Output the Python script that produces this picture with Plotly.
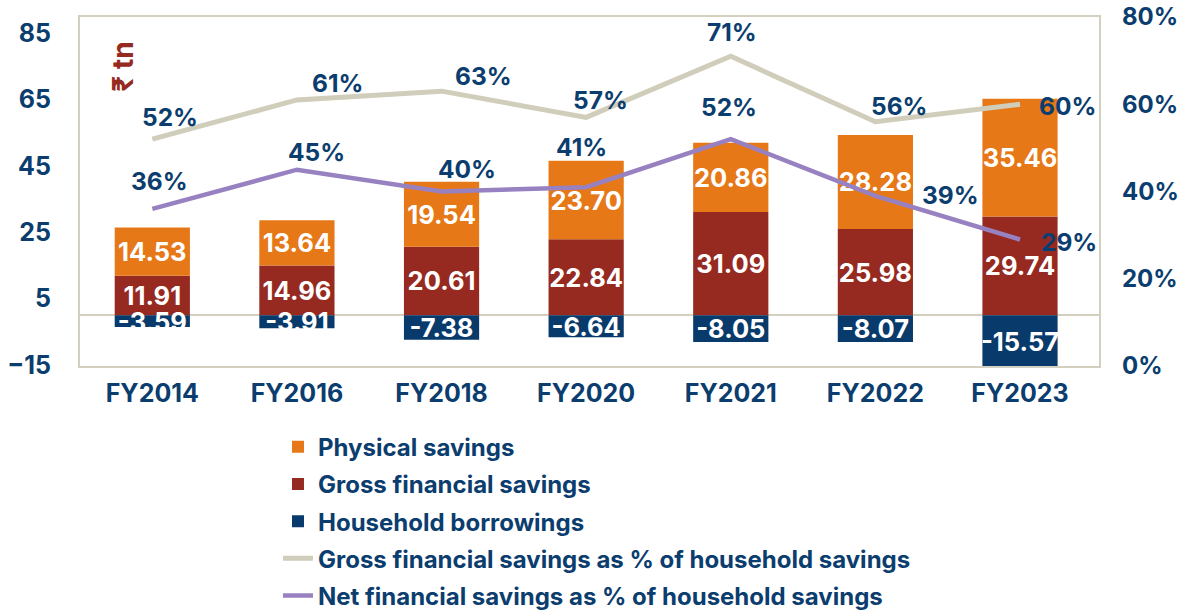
import plotly.graph_objects as go

categories = ["FY2014", "FY2016", "FY2018", "FY2020", "FY2021", "FY2022", "FY2023"]
physical_savings = [14.53, 13.64, 19.54, 23.70, 20.86, 28.28, 35.46]
gross_financial_savings = [11.91, 14.96, 20.61, 22.84, 31.09, 25.98, 29.74]
household_borrowings = [-3.59, -3.91, -7.38, -6.64, -8.05, -8.07, -15.57]
gross_pct = [52, 61, 63, 57, 71, 56, 60]
net_pct = [36, 45, 40, 41, 52, 39, 29]
left_ticks = [-15, 5, 25, 45, 65, 85]
right_ticks = [0, 20, 40, 60, 80]

# label offsets in pixels (style only)
gross_label_shift = [(18, 22), (41, 17), (42, 15), (14, 17), (1, 24), (24, 16), (47, -2)]
net_label_shift = [(7, 28), (20, 18), (25, 23), (-5, 40), (-2, 32), (75, 1), (49, -3)]

FONT = "Inter"
NAVY_TEXT = "#0B3D6E"
ORANGE = "#E67818"
RED = "#962A20"
NAVY = "#083A6B"
GREY = "#D0CDBB"
PURPLE = "#9881C0"
BORDER = "#D3D0C0"

fig = go.Figure()

bar_text = dict(family=FONT, size=25.5, color="white", weight="bold")

fig.add_trace(go.Bar(
    x=categories, y=gross_financial_savings, name="Gross financial savings",
    marker=dict(color=RED, line=dict(width=0)),
    text=[f"{v:.2f}" for v in gross_financial_savings], textposition="inside",
    insidetextanchor="middle", textangle=0, constraintext="none", textfont=bar_text,
    legendrank=2, legendgroup="g2", hoverinfo="skip"))
fig.add_trace(go.Bar(
    x=categories, y=physical_savings, name="Physical savings",
    marker=dict(color=ORANGE, line=dict(width=0)),
    text=[f"{v:.2f}" for v in physical_savings], textposition="inside",
    insidetextanchor="middle", textangle=0, constraintext="none", textfont=bar_text,
    legendrank=1, legendgroup="g1", hoverinfo="skip"))
fig.add_trace(go.Bar(
    x=categories, y=household_borrowings, name="Household borrowings",
    marker=dict(color=NAVY, line=dict(width=0)),
    text=[f"{v:.2f}" for v in household_borrowings], textposition="inside",
    insidetextanchor="middle", textangle=0, constraintext="none", textfont=bar_text,
    legendrank=3, legendgroup="g3", hoverinfo="skip"))

fig.add_trace(go.Scatter(
    x=categories, y=gross_pct, yaxis="y2", mode="lines",
    name="Gross financial savings as % of household savings",
    line=dict(color=GREY, width=5), legendrank=4, legendgroup="g4", hoverinfo="skip"))
fig.add_trace(go.Scatter(
    x=categories, y=net_pct, yaxis="y2", mode="lines",
    name="Net financial savings as % of household savings",
    line=dict(color=PURPLE, width=4.5), legendrank=5, legendgroup="g5", hoverinfo="skip"))

label_font = dict(family=FONT, size=24.5, color=NAVY_TEXT, weight="bold")
annotations = []
for cat, v, (dx, dy) in zip(categories, gross_pct, gross_label_shift):
    annotations.append(dict(x=cat, y=v, xref="x", yref="y2", text=f"{v}%", showarrow=False,
                            xshift=dx, yshift=dy, font=label_font))
for cat, v, (dx, dy) in zip(categories, net_pct, net_label_shift):
    annotations.append(dict(x=cat, y=v, xref="x", yref="y2", text=f"{v}%", showarrow=False,
                            xshift=dx, yshift=dy, font=label_font))
annotations.append(dict(x=0.042, y=0.857, xref="paper", yref="paper", text="₹ tn",
                        showarrow=False, textangle=-90, xanchor="center", yanchor="middle",
                        font=dict(family=FONT, size=28, color=RED, weight="bold")))

tickfont = dict(family=FONT, size=25, color=NAVY_TEXT, weight="bold")
tickfont_right = dict(family=FONT, size=24, color=NAVY_TEXT, weight="bold")

fig.update_layout(
    width=1186, height=613,
    margin=dict(l=80, r=87, t=17, b=247, autoexpand=False),
    paper_bgcolor="white", plot_bgcolor="white",
    barmode="relative", bargap=0.48,
    xaxis=dict(type="category", showline=True, linecolor=BORDER, linewidth=2, mirror=True,
               showgrid=False, ticks="", tickfont=tickfont, ticklabelstandoff=4),
    xaxis2=dict(overlaying="x", anchor="free", position=0.1456, range=[-0.5, 6.5],
                tickvals=[0.5, 1.5, 2.5, 3.5, 4.5, 5.5], ticks="outside", ticklen=8,
                tickwidth=2, tickcolor=BORDER, showticklabels=False, showgrid=False,
                showline=False, zeroline=False),
    yaxis=dict(range=[-15.3, 89.8], tickvals=left_ticks, showgrid=False,
               showline=True, linecolor=BORDER, linewidth=2, mirror=True,
               zeroline=True, zerolinecolor=BORDER, zerolinewidth=2,
               tickfont=tickfont, ticks="", ticklabelstandoff=22),
    yaxis2=dict(range=[0, 80], tickvals=right_ticks, ticktext=[f"{t}%" for t in right_ticks],
                overlaying="y", side="right", showgrid=False, zeroline=False,
                showline=False, tickfont=tickfont_right, ticks="", ticklabelstandoff=22,
                ticklabeloverflow="allow"),
    legend=dict(x=0.1943, y=-0.168, xanchor="left", yanchor="top", orientation="v",
                traceorder="grouped", tracegroupgap=3,
                font=dict(family=FONT, size=24, color=NAVY_TEXT, weight="bold"),
                itemwidth=30, bgcolor="rgba(0,0,0,0)"),
    annotations=annotations,
    showlegend=True,
)

fig.write_html("out.html", config={"displayModeBar": False},
               post_script="document.body.style.margin='0px';")
